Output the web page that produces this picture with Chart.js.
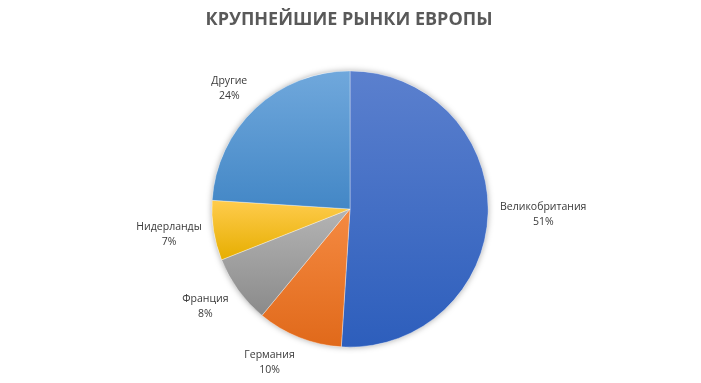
<!DOCTYPE html>
<html><head><meta charset="utf-8">
<script src="https://cdn.jsdelivr.net/npm/chart.js@4/dist/chart.umd.min.js"></script>
<style>html,body{margin:0;padding:0;background:#fff;}canvas{display:block}</style>
</head><body>
<canvas id="c" width="701" height="383"></canvas>
<script>
const titleText = 'КРУПНЕЙШИЕ РЫНКИ ЕВРОПЫ';
const categories = ['Великобритания', 'Германия', 'Франция', 'Нидерланды', 'Другие'];
const shares = [51, 10, 8, 7, 24];
const topColors = ['#5B80CE', '#F58A42', '#B4B4B4', '#FFCC4D', '#70A8DC'];
const bottomColors = ['#2D5EBC', '#E0691A', '#8A8A8A', '#E6AE00', '#4387C6'];

const labelFont = '"Open Sans", sans-serif';
const titleFont = '"Open Sans", sans-serif';

function sliceGradient(c) {
  const chart = c.chart, ca = chart.chartArea, i = c.dataIndex;
  if (!ca) return topColors[i];
  const total = shares.reduce((a, b) => a + b, 0);
  let before = 0; for (let k = 0; k < i; k++) before += shares[k];
  const a0 = -Math.PI / 2 + before / total * 2 * Math.PI;
  const a1 = a0 + shares[i] / total * 2 * Math.PI;
  const cy = (ca.top + ca.bottom) / 2, r = Math.min(ca.width, ca.height) / 2;
  const ys = [0, Math.sin(a0), Math.sin(a1)];
  for (const q of [-Math.PI / 2, Math.PI / 2, 3 * Math.PI / 2]) if (q >= a0 - 1e-9 && q <= a1 + 1e-9) ys.push(Math.sin(q));
  const y0 = cy + r * Math.min(...ys), y1 = cy + r * Math.max(...ys);
  const g = chart.ctx.createLinearGradient(0, y0, 0, y1 + 0.01);
  g.addColorStop(0, topColors[i]);
  g.addColorStop(1, bottomColors[i]);
  return g;
}

const shadowPlugin = {
  id: 'shadow',
  beforeDatasetsDraw(chart) {
    const arc = chart.getDatasetMeta(0).data[0];
    if (!arc) return;
    const ctx = chart.ctx;
    ctx.save();
    ctx.shadowColor = 'rgba(0,0,0,0.35)';
    ctx.shadowBlur = 6;
    ctx.fillStyle = '#ffffff';
    ctx.beginPath();
    ctx.arc(arc.x, arc.y, arc.outerRadius, 0, Math.PI * 2);
    ctx.fill();
    ctx.restore();
  }
};

const labelPlugin = {
  id: 'outLabels',
  afterDatasetsDraw(chart) {
    const ctx = chart.ctx;
    const meta = chart.getDatasetMeta(0);
    ctx.save();
    ctx.font = '10.5px ' + labelFont;
    ctx.fillStyle = '#3a3a3a';
    ctx.textAlign = 'center';
    ctx.textBaseline = 'middle';
    const lineH = 15, gap = 12;
    meta.data.forEach((arc, i) => {
      const mid = (arc.startAngle + arc.endAngle) / 2;
      const lines = [categories[i], shares[i] + '%'];
      const w = Math.max(...lines.map(s => ctx.measureText(s).width));
      const h = lineH * lines.length;
      const c = Math.cos(mid), s = Math.sin(mid);
      const px = arc.x + (arc.outerRadius + gap) * c;
      const py = arc.y + (arc.outerRadius + gap) * s;
      const cx = px + (Math.abs(c) < 0.05 ? 0 : Math.sign(c)) * w / 2;
      const cy = py + s * h / 2;
      lines.forEach((t, k) => ctx.fillText(t, cx, cy - h / 2 + lineH / 2 + k * lineH));
    });
    ctx.restore();
  }
};

const titlePlugin = {
  id: 'customTitle',
  afterDraw(chart) {
    const ctx = chart.ctx;
    ctx.save();
    ctx.font = 'bold 18px ' + titleFont;
    ctx.fillStyle = '#595959';
    ctx.textAlign = 'center';
    ctx.textBaseline = 'middle';
    ctx.fillText(titleText, 349, 19.5);
    ctx.restore();
  }
};

new Chart(document.getElementById('c'), {
  type: 'pie',
  data: {
    labels: categories,
    datasets: [{
      data: shares,
      backgroundColor: sliceGradient,
      borderColor: 'rgba(255,255,255,0.45)',
      borderWidth: 0.75,
      hoverOffset: 0
    }]
  },
  options: {
    responsive: false,
    animation: false,
    layout: { padding: { top: 70.5, bottom: 35.5, left: 100, right: 101 } },
    plugins: { legend: { display: false }, tooltip: { enabled: false }, title: { display: false } }
  },
  plugins: [shadowPlugin, labelPlugin, titlePlugin]
});
</script>
</body></html>
